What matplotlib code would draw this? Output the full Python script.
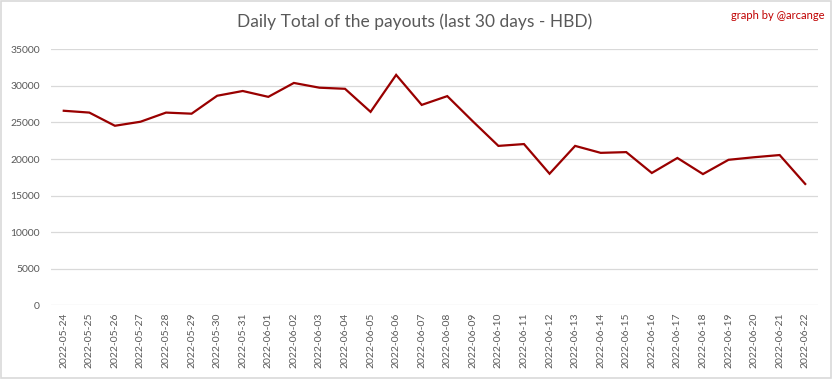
import matplotlib
matplotlib.use('Agg')
import matplotlib.pyplot as plt
from matplotlib.patches import Rectangle

# daily HBD payout totals
dates = ['2022-05-24', '2022-05-25', '2022-05-26', '2022-05-27', '2022-05-28',
         '2022-05-29', '2022-05-30', '2022-05-31', '2022-06-01', '2022-06-02',
         '2022-06-03', '2022-06-04', '2022-06-05', '2022-06-06', '2022-06-07',
         '2022-06-08', '2022-06-09', '2022-06-10', '2022-06-11', '2022-06-12',
         '2022-06-13', '2022-06-14', '2022-06-15', '2022-06-16', '2022-06-17',
         '2022-06-18', '2022-06-19', '2022-06-20', '2022-06-21', '2022-06-22']
payouts = [26600, 26350, 24550, 25100, 26350, 26200, 28650, 29300, 28500, 30400,
           29750, 29600, 26450, 31500, 27400, 28600, 25150, 21800, 22050, 18000,
           21800, 20850, 20950, 18100, 20150, 17950, 19900, 20250, 20550, 16600]
yticks = [0, 5000, 10000, 15000, 20000, 25000, 30000, 35000]

LINE, GRID, TXT = '#990000', '#d9d9d9', '#595959'
plt.rcParams['font.family'] = ['Lato', 'DejaVu Sans']

fig = plt.figure(figsize=(8.33, 3.79), dpi=100)
ax = fig.add_axes([0.0612, 0.194, 0.9208, 0.676])

x = range(len(dates))
ax.plot(x, payouts, color=LINE, lw=1.6, solid_joinstyle='miter')

ax.set_xlim(-0.5, len(dates) - 0.5)
ax.set_ylim(0, 35000)
ax.set_yticks(yticks)
ax.set_yticklabels([str(v) for v in yticks])
ax.set_xticks(list(x))
ax.set_xticklabels(dates, rotation=90)
ax.tick_params(axis='both', length=0, labelsize=7.5, colors=TXT)
ax.tick_params(axis='y', pad=8)
ax.tick_params(axis='x', pad=5)
ax.grid(axis='y', color=GRID, lw=0.9)
ax.set_axisbelow(True)
for s in ax.spines.values():
    s.set_visible(False)

fig.text(0.498, 0.942, 'Daily Total of the payouts (last 30 days - HBD)',
         ha='center', va='center', fontsize=12.5, color=TXT)
fig.text(0.99, 0.96, 'graph by @arcange', ha='right', va='center',
         fontsize=8, color='#c00000')

fig.add_artist(Rectangle((0.001, 0.002), 0.997, 0.995, transform=fig.transFigure,
                         fill=False, edgecolor=GRID, lw=1.2))

fig.savefig('out.png', dpi=100)
